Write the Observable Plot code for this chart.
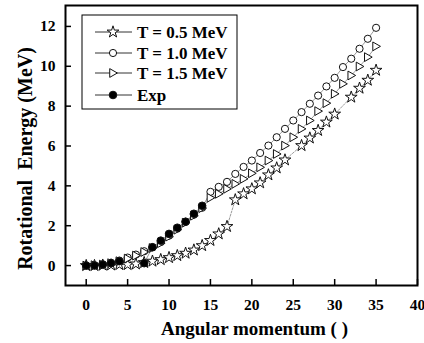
<!DOCTYPE html>
<html><head><meta charset="utf-8">
<script src="https://cdn.jsdelivr.net/npm/d3@7"></script>
<script src="https://cdn.jsdelivr.net/npm/@observablehq/plot@0.6"></script>
<style>body{margin:0;background:#fff;} #chart{width:424px;height:343px;overflow:hidden;} svg text{font-family:"Liberation Serif","Times New Roman",serif !important;font-weight:bold;}</style>
</head><body><div id="chart"></div>
<script>
// Angular momentum values
const J = [0,1,2,3,4,5,6,7,8,9,10,11,12,13,14,15,16,17,18,19,20,21,22,23,24,25,26,27,28,29,30,31,32,33,34,35];
// Rotational energy (MeV), null = no point
const t05 = [0,0,0.02,0.03,0.05,0.05,0.08,0.15,0.22,0.3,0.4,0.5,0.62,0.78,1.0,1.26,1.59,1.96,3.3,3.6,3.85,4.15,4.55,4.9,5.3,null,6.02,6.4,6.78,7.2,7.6,null,8.45,8.9,9.3,9.8];
const t10 = [0,0.02,0.06,0.14,0.25,0.4,0.55,0.72,0.92,1.18,1.5,1.85,2.2,2.55,2.9,3.7,3.95,4.2,4.6,4.95,5.27,5.65,6.02,6.44,6.86,7.28,7.7,8.12,8.53,8.99,9.42,9.96,10.38,10.88,11.38,11.93];
const t15 = [0,0.02,0.05,0.12,0.22,0.35,0.5,0.68,0.88,1.12,1.45,1.8,2.15,2.5,2.88,3.4,3.6,3.85,4.1,4.35,4.63,4.93,5.27,5.6,6.02,6.44,6.86,7.28,7.75,8.15,8.62,9.12,9.54,9.99,10.46,11.0];
const exp = [0,0,0.05,0.12,0.22,null,null,0.12,0.92,1.25,1.59,1.9,2.2,2.6,3.0,null,null,null,null,null,null,null,null,null,null,null,null,null,null,null,null,null,null,null,null,null];
const seriesNames = ["T = 0.5 MeV","T = 1.0 MeV","T = 1.5 MeV","Exp"];
const xTicks = [0,5,10,15,20,25,30,35,40];
const yTicks = [0,2,4,6,8,10,12];
const xLabel = "Angular momentum ( )";
const yLabel = "Rotational\u00a0 Energy (MeV)";

const triRight = {draw(ctx, size){ const s = Math.sqrt(size/Math.PI)*1.15; ctx.moveTo(-s*0.75,-s); ctx.lineTo(s,0); ctx.lineTo(-s*0.75,s); ctx.closePath(); }};
const vals = [t05,t10,t15,exp];
const symbols = [d3.symbolStar, d3.symbolCircle, triRight, d3.symbolCircle];
const fills = ["white","white","white","black"];
const radii = [3.7,3.6,3.8,3.8];

const rows = [];
vals.forEach((v,k)=>J.forEach((j,i)=>{ if (v[i]!=null) rows.push({series:seriesNames[k], J:j, E:v[i]}); }));
const of = name => rows.filter(d=>d.series===name);

const font = "Liberation Serif";
const plot = Plot.plot({
  width:424, height:343,
  marginLeft:65, marginRight:7, marginTop:5, marginBottom:58,
  x:{domain:[-2.5,40]},
  y:{domain:[-1,13.05]},
  style:"font-family: 'Liberation Serif', serif; font-weight: bold; font-size: 15px; color: #000; background: #fff;",
  marks:[
    Plot.axisX(xTicks, {tickSize:0, tickPadding:13, label:null, fontSize:15.5, fontFamily:font, fontWeight:"bold"}),
    Plot.axisX(xTicks, {tickSize:-6, text:null, label:null, strokeWidth:1.5}),
    Plot.axisY(yTicks, {tickSize:0, tickPadding:10, label:null, fontSize:15.5, fontFamily:font, fontWeight:"bold"}),
    Plot.axisY(yTicks, {tickSize:-6, text:null, label:null, strokeWidth:1.5}),
    ...seriesNames.map((s,k)=>Plot.line(of(s), {x:"J", y:"E", stroke:"#555", strokeWidth:0.6, strokeDasharray: k===0 ? "2,1.5" : null})),
    ...seriesNames.map((s,k)=>Plot.dot(of(s), {x:"J", y:"E", symbol:symbols[k], r:radii[k], stroke:"#111", strokeWidth:1, fill:fills[k]})),
    Plot.frame({stroke:"#000", strokeWidth:2}),
    Plot.text([xLabel], {text:d=>d, frameAnchor:"bottom", textAnchor:"middle", dx:13, dy:43, fontSize:19, fontWeight:"bold", fontFamily:font, lineAnchor:"middle"}),
    Plot.text([yLabel], {text:d=>d, frameAnchor:"left", textAnchor:"middle", rotate:-90, dx:-40, dy:13, fontSize:20, fontWeight:"bold", fontFamily:font, lineAnchor:"middle"})
  ]
});
document.getElementById("chart").appendChild(plot);

// Legend
const svg = d3.select(plot);
const g = svg.append("g").attr("font-family", font).attr("font-weight","bold").attr("text-anchor","start");
g.append("rect").attr("x",82).attr("y",15).attr("width",155).attr("height",94).attr("fill","white").attr("stroke","#000").attr("stroke-width",1);
const ly = [32,53,73,95];
seriesNames.forEach((s,k)=>{
  g.append("line").attr("x1",95).attr("x2",132).attr("y1",ly[k]).attr("y2",ly[k]).attr("stroke","#333").attr("stroke-width",1);
  g.append("path").attr("d", d3.symbol(symbols[k], Math.PI*radii[k]*radii[k])()).attr("transform",`translate(113,${ly[k]})`)
    .attr("fill",fills[k]).attr("stroke","#111").attr("stroke-width",1);
  g.append("text").attr("x",137).attr("y",ly[k]).attr("dy","0.35em").attr("font-size",17).attr("text-anchor","start").attr("fill","#000").text(s);
});
</script>
</body></html>
